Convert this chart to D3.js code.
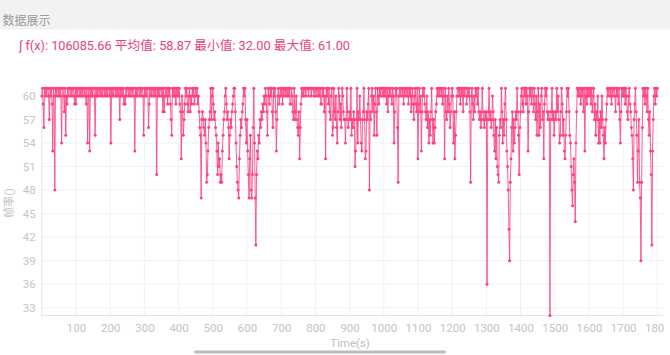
<!DOCTYPE html>
<html><head><meta charset="utf-8">
<script src="https://cdn.jsdelivr.net/npm/d3@7"></script>
<style>
html,body{margin:0;padding:0;background:#fff;overflow:hidden;}
svg text{font-family:Roboto,"Noto Sans CJK SC",sans-serif;}
</style></head><body>
<svg id="c" width="670" height="355"></svg>
<script>
// ---- data (frame rate sampled every 2 s) ----
const SAMPLE_STEP = 2;
const fps0000 = [60,61,59,56,61,60,61,60,61,61,60,57,61,60,61,59,53,61,60,48,61,60,61,61,60,61,60,61,60,54,61,61,60,58,61,55,60,59,61,60,61,61,60,61,60,61,61,60,59,61,
59,61,60,61,61,60,61,60,61,60,61,61,60,61,60,59,61,54,60,61,53,61,60,61,60,61,61,60,55,61,60,61,60,61,61,60,61,60,61,60,61,61,60,61,60,61,60,61,61,60,
61,54,61,60,61,60,61,61,60,61,60,61,60,61,57,61,60,61,60,61,59,60,59,61,60,61,61,60,61,60,61,61,60,61,61,60,53,61,60,61,60,61,61,60,61,60,61,61,60,55];
const fps0300 = [61,60,61,60,61,61,56,59,61,60,61,60,61,61,60,61,60,61,50,61,60,61,60,61,61,60,61,58,61,58,60,61,60,61,59,61,60,61,59,57,55,61,60,61,60,61,59,61,60,61,
60,61,59,58,52,60,58,55,57,59,61,60,61,59,58,60,61,58,60,59,61,60,61,59,60,61,60,61,59,60,58,56,55,47,57,58,57,56,55,57,54,49,50,53,56,57,58,61,57,60,
61,59,57,58,56,55,53,50,54,51,52,49,50,49,53,55,57,58,60,61,59,57,58,56,52,55,57,56,58,59,60,61,61,58,54,51,49,48,47,52,55,57,56,58,59,61,60,61,57,54];
const fps0600 = [57,53,50,47,52,55,48,47,50,56,61,54,47,41,50,53,52,55,54,57,56,58,57,59,58,60,59,61,60,58,55,61,60,59,61,60,61,58,56,61,60,61,58,53,57,60,61,59,60,61,
60,61,59,61,60,61,61,60,61,60,61,60,61,59,59,61,60,58,57,61,57,58,60,57,56,55,58,52,56,59,61,60,61,60,61,61,60,61,61,61,60,61,61,61,60,61,61,61,60,61,
61,60,61,61,60,61,60,61,59,59,61,60,61,58,60,52,61,60,61,59,61,58,57,60,61,55,56,61,58,57,60,56,54,58,61,60,57,59,56,61,60,58,57,57,54,57,61,58,56,57];
const fps0900 = [58,57,61,55,57,56,58,57,51,53,57,61,54,58,57,60,57,54,53,57,58,61,57,52,53,58,57,59,61,48,58,57,60,61,58,60,55,59,61,58,55,61,60,59,61,60,61,61,60,61,
60,61,60,61,59,61,58,60,61,60,61,60,59,61,60,54,58,61,60,61,56,49,60,61,60,61,61,60,61,59,61,60,61,61,60,61,59,61,60,61,58,60,61,59,57,60,61,59,58,61,
52,59,61,58,60,53,58,61,60,61,59,58,57,60,56,58,54,57,55,58,61,57,54,57,54,56,58,59,61,60,61,60,61,61,60,61,59,61,60,52,61,58,57,60,58,61,59,56,58,60];
const fps1200 = [61,60,54,58,52,55,58,60,61,61,60,61,59,61,60,61,58,61,60,61,61,59,60,61,60,61,58,49,60,61,59,57,60,58,61,60,61,59,61,58,57,58,56,57,61,58,57,56,58,57,
58,36,57,58,61,57,58,56,57,60,58,55,53,57,52,56,51,50,49,55,57,56,61,58,54,57,55,59,61,57,53,51,48,43,39,49,52,56,58,53,57,54,56,58,57,61,58,55,50,56,
58,60,61,59,58,61,60,61,59,61,60,53,58,61,60,61,59,61,60,58,61,59,57,60,55,58,61,55,59,56,60,61,57,58,52,59,61,60,61,58,57,58,57,32,57,58,61,57,58,55];
const fps1500 = [57,58,57,61,58,60,57,54,55,58,61,59,55,57,53,52,55,58,61,60,61,58,55,54,51,48,46,50,52,49,44,54,58,61,60,61,60,61,59,61,60,61,58,61,53,60,61,59,61,60,
61,60,61,59,61,58,60,61,57,59,55,58,57,60,54,57,54,58,56,60,57,55,52,56,54,57,59,61,60,61,61,60,61,59,61,60,61,61,60,58,61,60,61,59,61,57,54,58,61,60,
61,60,61,59,61,60,58,57,60,61,59,58,56,55,52,48,57,59,61,58,55,49,53,57,49,47,39,49,56,61,60,61,59,61,60,58,61,57,55,58,53,50,41,53,57,60,61,59,61,60,61];
const segmentStarts = [0, 300, 600, 900, 1200, 1500];
const segments = [fps0000, fps0300, fps0600, fps0900, fps1200, fps1500];
const xTicks = [100,200,300,400,500,600,700,800,900,1000,1100,1200,1300,1400,1500,1600,1700,1800];
const yTicks = [33,36,39,42,45,48,51,54,57,60];
const headerTitle = "数据展示";
const statsText = "∫ f(x): 106085.66 平均值: 58.87 最小值: 32.00 最大值: 61.00";
const xLabel = "Time(s)";
const yLabel = "帧率()";

const data = [];
segments.forEach((seg, k) => seg.forEach((v, j) => data.push({t: segmentStarts[k] + j * SAMPLE_STEP, v})));

const svg = d3.select("#c");
const PINK = "#ff4081";
const FONT = 'Roboto,"Noto Sans CJK SC",sans-serif';
const L = 41.8, R = 663.5, T = 88.2, B = 315.5;
const x = d3.scaleLinear().domain([0, 1818]).range([L, R]);
const y = d3.scaleLinear().domain([32, 61]).range([B, T]);

// header
svg.append("rect").attr("x",0).attr("y",0).attr("width",670).attr("height",29.5).attr("fill","#f2f2f2");
svg.append("text").attr("x",2.5).attr("y",24.5).attr("font-size",12).attr("fill","#9a9a9a").text(headerTitle);
svg.append("text").attr("x",19).attr("y",50).attr("font-size",12.5)
  .attr("textLength",331).attr("lengthAdjust","spacingAndGlyphs")
  .attr("fill","#e8417c").text(statsText);

// grid
const g = svg.append("g");
g.selectAll(".hg").data(yTicks).join("line")
  .attr("x1",L).attr("x2",R).attr("y1",d=>y(d)).attr("y2",d=>y(d))
  .attr("stroke","#f1f1f1").attr("stroke-width",1);
g.selectAll(".vg").data(xTicks).join("line")
  .attr("x1",d=>x(d)).attr("x2",d=>x(d)).attr("y1",T).attr("y2",B)
  .attr("stroke","#f1f1f1").attr("stroke-width",1);
// axis lines
g.append("line").attr("x1",L).attr("x2",L).attr("y1",T).attr("y2",B+1).attr("stroke","#e4e4e4");
g.append("line").attr("x1",L).attr("x2",R).attr("y1",B).attr("y2",B).attr("stroke","#e4e4e4");

// clip for x labels (chart view ends before the screen edge)
svg.append("clipPath").attr("id","xclip").append("rect")
  .attr("x",0).attr("y",300).attr("width",R+0.5).attr("height",40);

const xAxis = d3.axisBottom(x).tickValues(xTicks).tickFormat(d3.format("d")).tickSize(0).tickPadding(0);
const xa = svg.append("g").attr("clip-path","url(#xclip)")
  .append("g").attr("transform",`translate(0,${B+8})`).call(xAxis);
xa.select(".domain").remove();
xa.selectAll("text").attr("fill","#c4c4c4").attr("font-size",11.5).attr("dy","0.71em")
  .style("font-family",FONT);
const yAxis = d3.axisLeft(y).tickValues(yTicks).tickSize(0).tickPadding(0);
const ya = svg.append("g").attr("transform",`translate(${L-6},0)`).call(yAxis);
ya.select(".domain").remove();
ya.selectAll("text").attr("fill","#c4c4c4").attr("font-size",11.5)
  .style("font-family",FONT);

svg.append("text").attr("x",350).attr("y",347).attr("text-anchor","middle")
  .attr("font-size",11.5).attr("fill","#bdbdbd").text(xLabel);
svg.append("text").attr("transform","translate(13,203) rotate(-90)").attr("text-anchor","middle")
  .attr("font-size",11).attr("fill","#c4c4c4").text(yLabel);

// series
const line = d3.line().x(d=>x(d.t)).y(d=>y(d.v));
svg.append("path").datum(data).attr("d",line).attr("fill","none")
  .attr("stroke",PINK).attr("stroke-width",1).attr("stroke-opacity",0.85);
svg.append("g").selectAll("circle").data(data).join("circle")
  .attr("cx",d=>x(d.t)).attr("cy",d=>y(d.v)).attr("r",1.5).attr("fill",PINK);

// bottom indicator bar
svg.append("rect").attr("x",194).attr("y",350.5).attr("width",252).attr("height",3).attr("rx",1.5).attr("fill","#bcbcbc");
</script></body></html>
